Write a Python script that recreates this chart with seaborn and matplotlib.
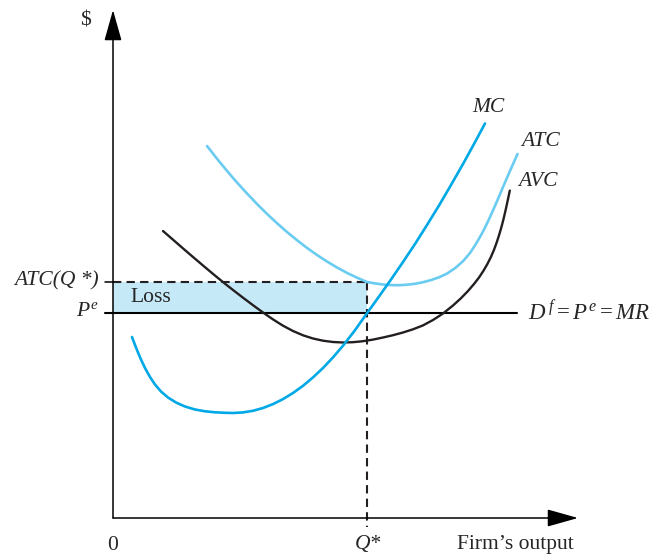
import matplotlib
matplotlib.use("Agg")
import matplotlib.pyplot as plt
import seaborn as sns
import pandas as pd

# quantity / cost readings (origin of the diagram = 0, 0)
mc_q = [19, 22, 25, 28, 32, 37, 42, 48, 55, 63, 72, 82, 92, 102, 112, 120, 130, 140, 150, 160, 170,
        180, 190, 200, 210, 220, 230, 242, 254, 266, 278, 290, 302, 314, 326, 338, 350, 361, 372]
mc_c = [181, 173, 165.5, 158.5, 150, 141, 133.5, 126.5, 120.5, 115.5, 111.5, 108.5, 106.7, 105.7, 105.2, 105, 105.6, 107.2, 110, 113.9, 118.9,
        125, 132.2, 140.6, 150, 160.6, 172.3, 187.8, 204.8, 221.5, 238.5, 256, 274, 293, 312.5, 333, 354, 374, 394.5]

atc_q = [94, 104, 114, 124, 134, 144, 154, 164, 174, 184, 194, 204, 214, 224, 234, 244, 254, 262, 270, 278, 286,
         294, 302, 310, 318, 326, 334, 342, 350, 357, 363, 368, 372, 376, 380, 384, 388, 392, 396, 399, 402, 404.5]
atc_c = [372, 359.3, 347.1, 335.5, 324.5, 314, 304.1, 294.8, 286, 277.8, 270.1, 263, 256.5, 250.5, 245.1, 240.3, 236, 234.6, 233.5, 232.9, 232.8,
         233.3, 234.2, 235.8, 237.9, 240.7, 244.4, 249.8, 256.8, 265, 274.2, 282.8, 290.4, 298.8, 307.6, 316.8, 326.2, 335.6, 344.8, 351.6, 358.3, 364]

avc_q = [50, 60, 70, 80, 90, 100, 110, 120, 130, 140, 150, 160, 170, 180, 190, 200, 210, 220, 230, 240, 250, 260, 270, 280,
         290, 300, 310, 320, 330, 340, 348, 355, 361, 366, 370.5, 374.5, 378, 381, 383.5, 385.8, 387.8, 389.6, 391.2, 392.6,
         393.9, 395.1, 396.2, 396.8]
avc_c = [287, 278.3, 269.6, 261, 252.5, 244.1, 235.9, 228, 220.3, 212.8, 205.5, 198.6, 192.3, 187, 182.7, 179.5, 177.3, 176, 175.5, 175.8, 176.8, 178.4, 180.5, 182.8,
         185.5, 188.7, 192.6, 198, 204.5, 212.5, 219.8, 227, 234, 240.5, 247.3, 254.2, 261.2, 268.2, 275, 282, 288.7, 295.3, 301.8, 307.9,
         313.8, 319.4, 324.6, 327.4]

p_e = 205
atc_qstar = 236
q_star = 254
q_max = 404

MC_COL = "#00a9e6"
ATC_COL = "#6accf0"
AVC_COL = "#231f20"
LOSS_COL = "#c6e9f8"

sns.set_theme(style="white")
plt.rcParams["font.family"] = ["Liberation Serif", "DejaVu Serif"]
plt.rcParams["mathtext.fontset"] = "custom"
plt.rcParams["mathtext.rm"] = "Liberation Serif"
plt.rcParams["mathtext.it"] = "Liberation Serif:italic"

fig = plt.figure(figsize=(6.53, 5.55), dpi=100)
ax = fig.add_axes([0, 0, 1, 1])
ax.set_xlim(-113, 540)
ax.set_ylim(-37, 518)
ax.axis("off")

# loss rectangle
ax.fill_between([0, q_star], p_e, atc_qstar, color=LOSS_COL, lw=0, zorder=1)

# axes with arrows
arrow = dict(arrowstyle="-|>,head_length=1.6,head_width=0.45", lw=1.1, color="black",
             shrinkA=0, shrinkB=0)
ax.annotate("", xy=(0, 508), xytext=(0, 0), arrowprops=arrow)
ax.annotate("", xy=(465, 0), xytext=(0, 0), arrowprops=arrow)

# curves
df_mc = pd.DataFrame({"q": mc_q, "c": mc_c})
df_atc = pd.DataFrame({"q": atc_q, "c": atc_c})
df_avc = pd.DataFrame({"q": avc_q, "c": avc_c})
sns.lineplot(data=df_atc, x="q", y="c", color=ATC_COL, lw=1.9, sort=False, estimator=None, ax=ax, zorder=3)
sns.lineplot(data=df_avc, x="q", y="c", color=AVC_COL, lw=1.7, sort=False, estimator=None, ax=ax, zorder=3)
sns.lineplot(data=df_mc, x="q", y="c", color=MC_COL, lw=1.9, sort=False, estimator=None, ax=ax, zorder=4)
for line in ax.lines:
    line.set_solid_joinstyle("round")

# price line and dashed guides
ax.plot([-8, q_max], [p_e, p_e], color="black", lw=1.5, zorder=2)
ax.plot([0, q_star], [atc_qstar, atc_qstar], color=AVC_COL, lw=1.5, ls=(0, (4, 2.5)), zorder=2)
ax.plot([q_star, q_star], [atc_qstar, -9], color=AVC_COL, lw=1.5, ls=(0, (4, 2.5)), zorder=2)
ax.plot([-8, 0], [atc_qstar, atc_qstar], color="black", lw=1.1)

# labels
fs = 15.5
ax.text(-28, 497, "$", fontsize=fs, ha="center", va="center")
ax.text(-14, atc_qstar + 1, "ATC(Q *)", fontsize=fs, style="italic", ha="right", va="center")
ax.text(-14, p_e + 1, r"$P^{e}$", fontsize=fs, ha="right", va="center")
ax.text(17, 221, "Loss", fontsize=fs, ha="left", va="center")
ax.text(0, -27, "0", fontsize=fs, ha="center", va="center")
ax.text(q_star + 1, -27, "Q*", fontsize=fs, style="italic", ha="center", va="center")
ax.text(402, -27, "Firm\u2019s output", fontsize=fs, ha="center", va="center")
ax.text(375, 410, "MC", fontsize=fs, style="italic", ha="center", va="center")
ax.text(428, 377, "ATC", fontsize=fs, style="italic", ha="center", va="center")
ax.text(425, 336, "AVC", fontsize=fs, style="italic", ha="center", va="center")
ax.text(415, p_e, r"$D^{\,f} = P^{e} = MR$", fontsize=16.5, ha="left", va="center")

fig.savefig("out.png", dpi=100)
